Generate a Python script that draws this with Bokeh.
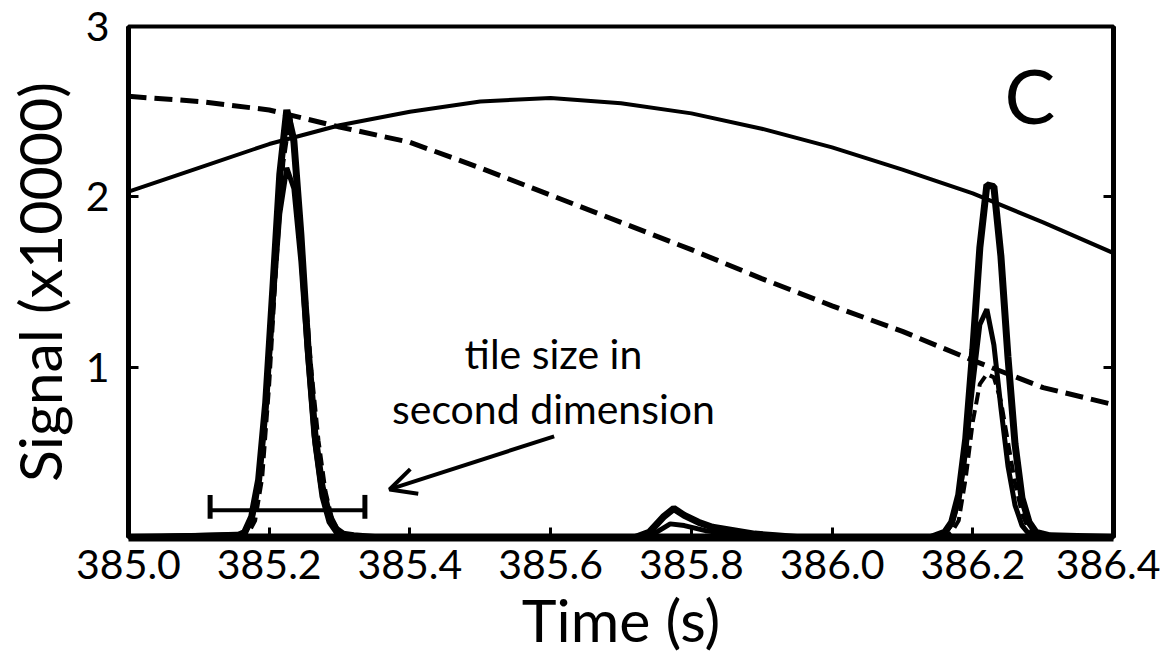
from bokeh.plotting import figure
from bokeh.models import Range1d, FixedTicker, LinearAxis, Arrow, OpenHead
from bokeh.core.properties import value
from bokeh.embed import file_html
from bokeh.resources import INLINE

FONT = "Lato"

# ---------------- data ----------------
x_ticks = [385.0, 385.2, 385.4, 385.6, 385.8, 386.0, 386.2, 386.4]
x_tick_labels = ["385.0", "385.2", "385.4", "385.6", "385.8", "386.0", "386.2", "386.4"]
y_ticks = [1, 2, 3]
y_tick_labels = ["1", "2", "3"]

# broad envelopes
t_env = [385.0, 385.1, 385.2, 385.3, 385.4, 385.5, 385.6, 385.7,
         385.8, 385.9, 386.0, 386.1, 386.2, 386.3, 386.4]
env_solid = [2.03, 2.17, 2.31, 2.42, 2.50, 2.56, 2.58, 2.55,
             2.49, 2.40, 2.29, 2.16, 2.02, 1.85, 1.67]
env_dashed = [2.59, 2.56, 2.51, 2.41, 2.32, 2.17, 2.01, 1.85,
              1.69, 1.52, 1.36, 1.21, 1.04, 0.88, 0.78]

# trace A (thick solid peaks)
t_a = [385.00, 385.155, 385.165, 385.175, 385.185, 385.195, 385.205, 385.215, 385.225,
       385.235, 385.245, 385.255, 385.265, 385.275, 385.285, 385.295, 385.305, 385.32, 385.35,
       385.72, 385.74, 385.76, 385.775, 385.79, 385.81, 385.83, 385.86, 385.89, 385.92, 385.95,
       386.14, 386.16, 386.17, 386.18, 386.19, 386.20, 386.21, 386.22, 386.23, 386.24,
       386.25, 386.26, 386.27, 386.28, 386.29, 386.31, 386.40]
sig_a = [0.0, 0.01, 0.03, 0.12, 0.34, 0.79, 1.45, 2.13, 2.51,
         2.33, 1.78, 1.12, 0.60, 0.30, 0.13, 0.05, 0.02, 0.01, 0.0,
         0.0, 0.03, 0.12, 0.17, 0.13, 0.09, 0.06, 0.04, 0.02, 0.01, 0.0,
         0.0, 0.03, 0.09, 0.25, 0.58, 1.10, 1.70, 2.07, 2.06, 1.65,
         1.06, 0.55, 0.23, 0.09, 0.03, 0.01, 0.0]

# trace B (thinner solid peaks)
t_b = [385.00, 385.165, 385.175, 385.185, 385.195, 385.205, 385.215, 385.225, 385.235,
       385.245, 385.255, 385.265, 385.275, 385.285, 385.295, 385.31,
       385.73, 385.75, 385.77, 385.79, 385.82, 385.86, 385.90,
       386.15, 386.16, 386.17, 386.18, 386.19, 386.20, 386.21, 386.22, 386.23,
       386.24, 386.25, 386.26, 386.27, 386.28, 386.30, 386.40]
sig_b = [0.0, 0.02, 0.10, 0.32, 0.75, 1.35, 1.90, 2.17, 2.05,
         1.62, 1.05, 0.55, 0.24, 0.09, 0.03, 0.0,
         0.0, 0.03, 0.08, 0.07, 0.04, 0.02, 0.0,
         0.0, 0.02, 0.08, 0.22, 0.51, 0.90, 1.25, 1.34, 1.13,
         0.76, 0.42, 0.19, 0.07, 0.02, 0.0, 0.0]

# trace C (dashed peaks)
t_c = [385.00, 385.17, 385.18, 385.19, 385.20, 385.21, 385.22, 385.23, 385.24, 385.25,
       385.26, 385.27, 385.28, 385.29, 385.30, 385.32,
       386.16, 386.17, 386.18, 386.19, 386.20, 386.21, 386.22, 386.23, 386.24, 386.25,
       386.26, 386.27, 386.28, 386.30, 386.40]
sig_c = [0.0, 0.02, 0.10, 0.35, 0.90, 1.60, 2.20, 2.48, 2.05, 1.52,
         0.98, 0.57, 0.27, 0.10, 0.03, 0.0,
         0.0, 0.03, 0.10, 0.35, 0.68, 0.90, 0.96, 0.94, 0.80, 0.56,
         0.32, 0.14, 0.04, 0.0, 0.0]

# annotations
tile_x = [385.116, 385.336]
tile_y = 0.16
tile_cap = [0.11, 0.25]
note_x = [385.604, 385.604]
note_y = [1.08, 0.76]
note_text = ["tile size in", "second dimension"]
arrow_from = (385.605, 0.594)
arrow_to = (385.371, 0.282)
panel_x, panel_y, panel_text = [386.281], [2.60], ["C"]

# ---------------- figure ----------------
p = figure(width=1160, height=671, x_range=Range1d(385.0, 386.4), y_range=Range1d(0, 3),
           output_backend="svg", toolbar_location=None,
           min_border_left=126, min_border_right=47, min_border_top=26, min_border_bottom=134,
           x_axis_label="Time (s)", y_axis_label="Signal (x10000)")
p.background_fill_color = "white"
p.border_fill_color = "white"
p.grid.visible = False
p.outline_line_color = "black"
p.outline_line_width = 4
p.outline_line_alpha = 1.0

for ax in (p.xaxis[0], p.yaxis[0]):
    ax.axis_line_color = "black"
    ax.major_tick_in = 10
    ax.major_tick_out = 0
    ax.minor_tick_in = 0
    ax.minor_tick_out = 0
    ax.major_tick_line_width = 3
    ax.major_label_text_font = FONT
    ax.major_label_text_font_size = "41px"
    ax.major_label_text_color = "black"
    ax.axis_label_text_font = FONT
    ax.axis_label_text_font_size = "59px"
    ax.axis_label_text_font_style = "normal"
    ax.axis_label_text_color = "black"

p.xaxis[0].axis_line_width = 8
p.yaxis[0].axis_line_width = 5
p.xaxis[0].ticker = FixedTicker(ticks=x_ticks)
p.xaxis[0].major_label_overrides = {t: l for t, l in zip(x_ticks, x_tick_labels)}
p.xaxis[0].major_label_standoff = 12
p.xaxis[0].axis_label_standoff = 2
p.yaxis[0].ticker = FixedTicker(ticks=y_ticks)
p.yaxis[0].major_label_overrides = {t: l for t, l in zip(y_ticks, y_tick_labels)}
p.yaxis[0].major_label_standoff = 19
p.yaxis[0].axis_label_standoff = 8

right = LinearAxis(ticker=FixedTicker(ticks=y_ticks),
                   major_label_overrides={t: "" for t in y_ticks},
                   major_tick_in=10, major_tick_out=0, minor_tick_in=0, minor_tick_out=0,
                   major_tick_line_width=3, axis_line_width=5, axis_line_color="black",
                   major_label_text_font_size="10px")
p.add_layout(right, "right")

# ---------------- lines ----------------
p.line(t_env, env_solid, line_color="black", line_width=4)
p.line(t_env, env_dashed, line_color="black", line_width=5, line_dash="18 8")
p.line(t_c, sig_c, line_color="black", line_width=4, line_dash="12 6")
p.line(t_b, sig_b, line_color="black", line_width=5)
p.line(t_a, sig_a, line_color="black", line_width=7)

# tile-size bar
p.segment(x0=[tile_x[0]], y0=[tile_y], x1=[tile_x[1]], y1=[tile_y], line_color="black", line_width=4)
p.segment(x0=tile_x, y0=[tile_cap[0]] * 2, x1=tile_x, y1=[tile_cap[1]] * 2,
          line_color="black", line_width=5)

# annotation text and arrow
p.text(x=note_x, y=note_y, text=note_text, text_font=value(FONT),
       text_font_size=value("41px"), text_align="center", text_baseline="alphabetic",
       text_color="black")
p.add_layout(Arrow(end=OpenHead(size=26, line_width=4, line_color="black"),
                   x_start=arrow_from[0], y_start=arrow_from[1],
                   x_end=arrow_to[0], y_end=arrow_to[1],
                   line_width=4, line_color="black"))
p.text(x=panel_x, y=panel_y, text=panel_text, text_font=value(FONT),
       text_font_size=value("76px"), text_align="center", text_baseline="alphabetic",
       text_color="black")

open("out.html", "w").write(file_html(p, INLINE))
